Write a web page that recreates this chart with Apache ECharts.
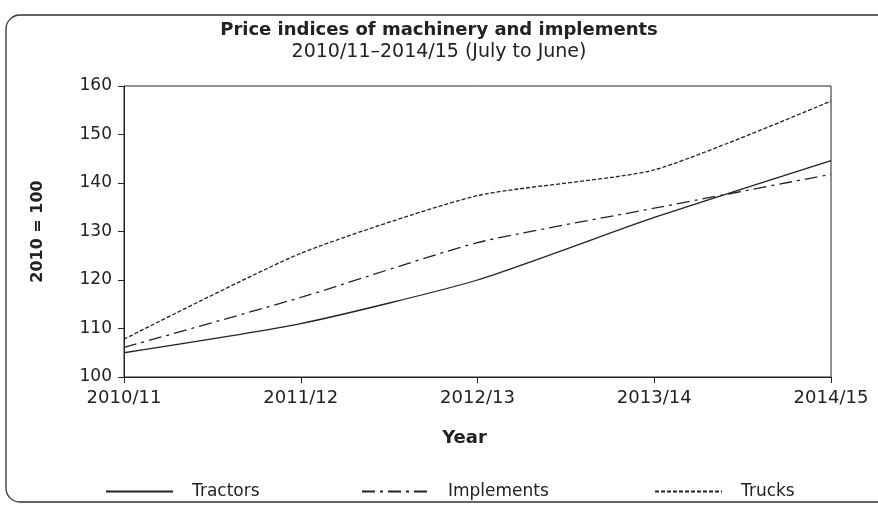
<!DOCTYPE html>
<html>
<head>
<meta charset="utf-8">
<script src="https://cdn.jsdelivr.net/npm/echarts@6/dist/echarts.min.js"></script>
<style>
  html, body { margin: 0; padding: 0; background: #fff; }
  #chart { width: 878px; height: 505px; }
</style>
</head>
<body>
<div id="chart"></div>
<script>
// data
const years = ["2010/11", "2011/12", "2012/13", "2013/14", "2014/15"];
const tractors = [105, 111, 120, 132.9, 144.6];
const implementsIdx = [106.1, 116.4, 127.7, 134.8, 141.8];
const trucks = [107.8, 125.5, 137.4, 142.7, 156.9];

const font = "DejaVu Sans";
const ink = "#222";

let chart = echarts.init(document.getElementById("chart"));

function legendAt(name, left) {
  return {
    data: [name],
    left: left,
    top: 478,
    itemWidth: 67,
    itemHeight: 14,
    itemStyle: { opacity: 0 },
    textStyle: {
      fontFamily: font,
      fontSize: 17,
      color: ink,
      padding: [0, 0, 0, 14]
    }
  };
}

chart.setOption({
  animation: false,
  title: {
    text: "Price indices of machinery and implements",
    subtext: "2010/11\u20132014/15 (July to June)",
    left: "center",
    top: 16,
    itemGap: 4,
    textStyle: {
      fontFamily: font,
      fontSize: 18,
      fontWeight: "bold",
      color: ink
    },
    subtextStyle: {
      fontFamily: font,
      fontSize: 19,
      color: ink
    }
  },
  graphic: [
    {
      // rounded frame round the whole figure
      type: "rect",
      shape: { x: 6, y: 15, width: 960, height: 487, r: 14 },
      style: { fill: "none", stroke: "#333", lineWidth: 1.3 },
      silent: true
    }
  ],
  legend: [
    legendAt("Tractors", 100),
    legendAt("Implements", 356),
    legendAt("Trucks", 649)
  ],
  grid: {
    left: 124,
    right: 47,
    top: 86,
    bottom: 128,
    show: true,
    borderColor: ink,
    borderWidth: 1
  },
  xAxis: {
    type: "category",
    data: years,
    boundaryGap: false,
    name: "Year",
    nameLocation: "middle",
    nameGap: 52,
    nameTextStyle: {
      fontFamily: font,
      fontSize: 18,
      fontWeight: "bold",
      color: ink,
      padding: [0, 26, 0, 0]
    },
    axisLine: { lineStyle: { color: ink, width: 1 } },
    axisTick: { length: 6, lineStyle: { color: ink } },
    axisLabel: {
      fontFamily: font,
      fontSize: 18,
      color: ink,
      margin: 12
    },
    splitLine: { show: false }
  },
  yAxis: {
    type: "value",
    min: 100,
    max: 160,
    interval: 10,
    name: "2010 = 100",
    nameLocation: "middle",
    nameGap: 78,
    nameTextStyle: {
      fontFamily: font,
      fontSize: 16,
      fontWeight: "bold",
      color: ink
    },
    axisLine: { show: true, lineStyle: { color: ink, width: 1 } },
    axisTick: { show: true, length: 6, lineStyle: { color: ink } },
    axisLabel: {
      fontFamily: font,
      fontSize: 17,
      color: ink,
      margin: 12
    },
    splitLine: { show: false }
  },
  series: [
    {
      name: "Tractors",
      type: "line",
      data: tractors,
      smooth: 0.2,
      symbol: "none",
      lineStyle: { color: ink, width: 1.3, type: "solid" },
      itemStyle: { color: ink }
    },
    {
      name: "Implements",
      type: "line",
      data: implementsIdx,
      smooth: 0.2,
      symbol: "none",
      lineStyle: { color: ink, width: 1.3, type: [13, 5, 3, 5] },
      itemStyle: { color: ink }
    },
    {
      name: "Trucks",
      type: "line",
      data: trucks,
      smooth: 0.2,
      symbol: "none",
      lineStyle: { color: ink, width: 1.3, type: [4, 2] },
      itemStyle: { color: ink }
    }
  ]
});
</script>
</body>
</html>
